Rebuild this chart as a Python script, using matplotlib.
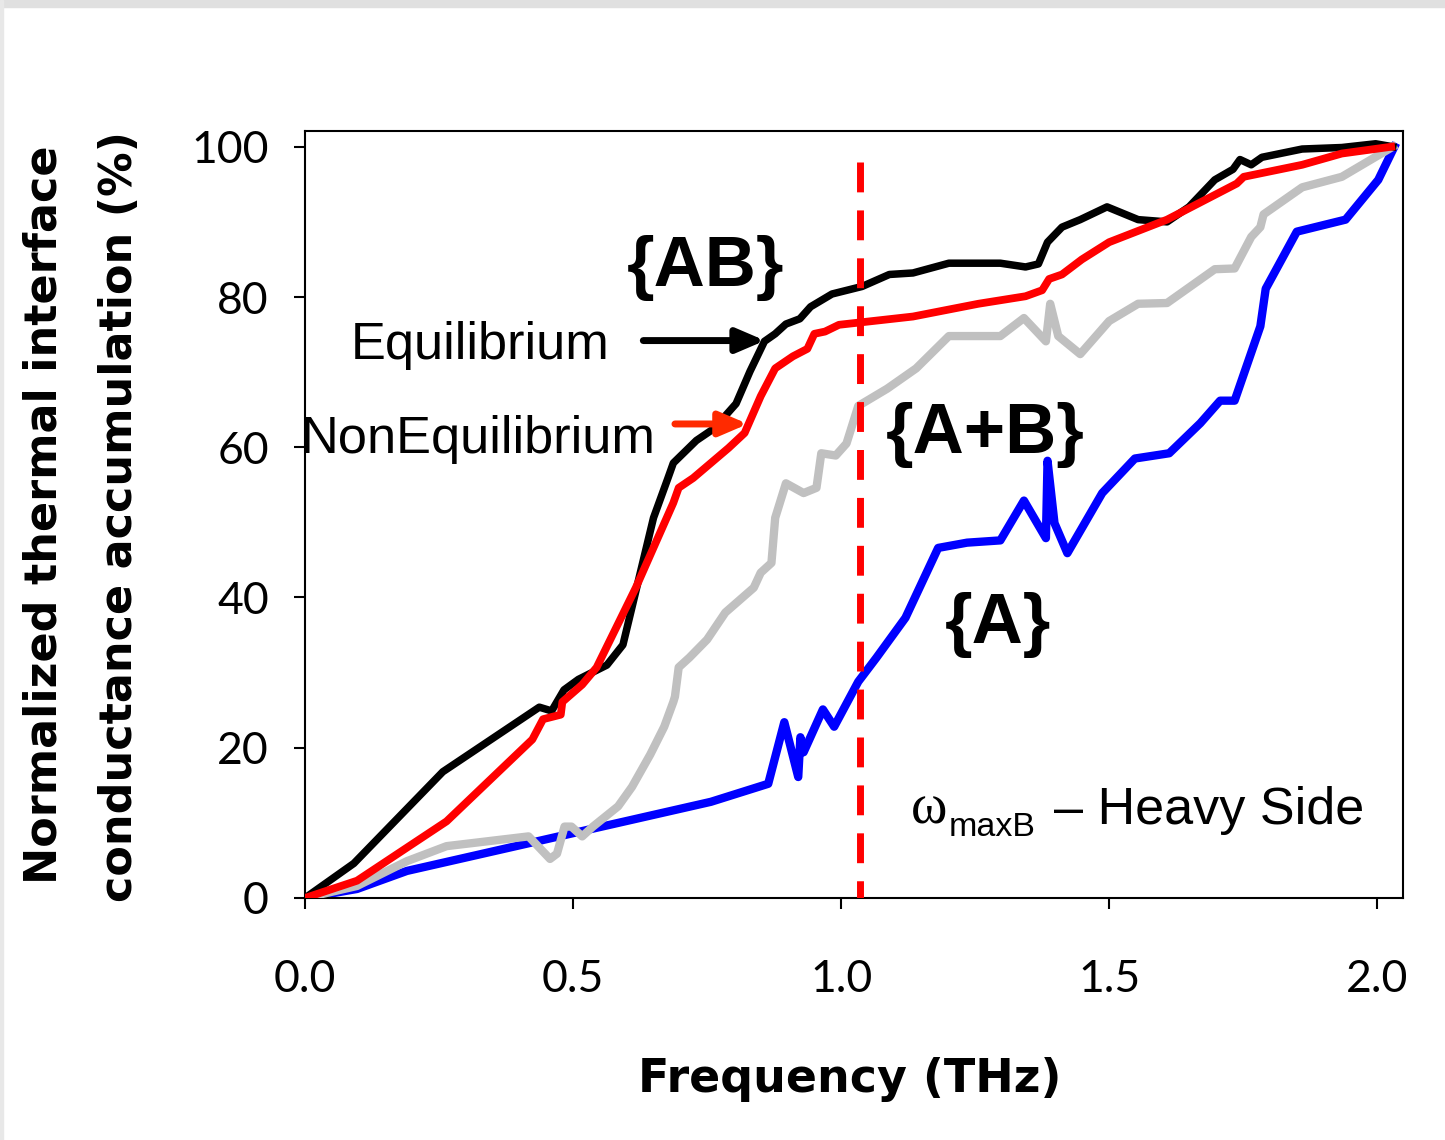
import matplotlib
matplotlib.use('Agg')
import matplotlib.pyplot as plt
from matplotlib.patches import Rectangle

# frequency (THz) / normalized accumulation (%) for each case
freq_ab = [0, 0.091, 0.257, 0.437, 0.46, 0.483, 0.51, 0.563, 0.593, 0.65, 0.677, 0.687, 0.73, 0.763,
           0.804, 0.83, 0.857, 0.877, 0.897, 0.923, 0.943, 0.983, 1.039, 1.09, 1.134, 1.201, 1.297,
           1.344, 1.368, 1.385, 1.412, 1.446, 1.496, 1.554, 1.608, 1.649, 1.697, 1.731, 1.744, 1.765,
           1.785, 1.86, 1.934, 1.997, 2.029]
acc_ab = [0, 4.6, 16.8, 25.4, 24.9, 27.7, 29.1, 31.0, 33.7, 50.6, 55.9, 57.9, 60.9, 62.5,
          65.8, 70.1, 74.1, 75.1, 76.4, 77.1, 78.7, 80.4, 81.4, 83.0, 83.2, 84.5, 84.5,
          84.0, 84.4, 87.3, 89.3, 90.3, 92.0, 90.3, 90.0, 92.0, 95.6, 97.0, 98.3, 97.6,
          98.6, 99.7, 99.9, 100.4, 100.0]

freq_ab_neq = [0, 0.097, 0.264, 0.424, 0.444, 0.477, 0.48, 0.517, 0.544, 0.617, 0.687, 0.697, 0.724,
               0.79, 0.82, 0.85, 0.877, 0.91, 0.937, 0.95, 0.97, 0.996, 1.134, 1.256, 1.344, 1.375,
               1.388, 1.412, 1.449, 1.5, 1.608, 1.738, 1.751, 1.86, 1.934, 2.026]
acc_ab_neq = [0, 2.3, 10.2, 21.1, 23.8, 24.4, 26.1, 28.4, 30.7, 41.3, 52.6, 54.6, 55.9,
              59.9, 61.9, 66.8, 70.5, 72.1, 73.1, 75.1, 75.4, 76.3, 77.4, 79.1, 80.1, 80.9,
              82.4, 83.0, 85.0, 87.3, 90.3, 95.1, 96.0, 97.6, 99.1, 100.0]

freq_apb = [0, 0.097, 0.19, 0.264, 0.417, 0.457, 0.47, 0.484, 0.497, 0.517, 0.537, 0.584, 0.61,
            0.644, 0.67, 0.687, 0.69, 0.697, 0.717, 0.75, 0.784, 0.837, 0.85, 0.87, 0.877, 0.897,
            0.93, 0.954, 0.963, 0.99, 1.01, 1.032, 1.086, 1.14, 1.201, 1.297, 1.341, 1.382, 1.39,
            1.405, 1.446, 1.5, 1.554, 1.608, 1.697, 1.734, 1.765, 1.782, 1.788, 1.86, 1.934, 2.029]
acc_apb = [0, 1.6, 4.9, 6.9, 8.2, 5.2, 5.9, 9.5, 9.5, 8.2, 9.5, 12.2, 14.8,
           19.1, 22.8, 26.1, 26.8, 30.7, 32.0, 34.4, 38.0, 41.3, 43.3, 44.6, 50.6, 55.2,
           53.9, 54.6, 59.2, 58.9, 60.5, 65.5, 67.8, 70.5, 74.8, 74.8, 77.2, 74.1, 79.1,
           74.8, 72.4, 76.8, 79.1, 79.2, 83.7, 83.8, 88.0, 89.3, 91.0, 94.6, 96.0, 100.0]

freq_a = [0, 0.097, 0.19, 0.757, 0.864, 0.894, 0.92, 0.924, 0.93, 0.966, 0.987, 1.032, 1.066,
          1.12, 1.181, 1.235, 1.297, 1.341, 1.382, 1.385, 1.398, 1.422, 1.487, 1.548, 1.612,
          1.67, 1.707, 1.734, 1.782, 1.792, 1.85, 1.941, 2.002, 2.032]
acc_a = [0, 1.2, 3.6, 12.8, 15.2, 23.4, 16.1, 21.4, 19.4, 25.1, 22.8, 28.8, 32.0,
         37.3, 46.6, 47.3, 47.6, 52.9, 47.9, 58.2, 49.9, 45.9, 53.9, 58.5, 59.2,
         63.2, 66.2, 66.2, 76.1, 81.1, 88.7, 90.3, 95.6, 100.0]

omega_max_b = 1.035
x_ticks = [0.0, 0.5, 1.0, 1.5, 2.0]
y_ticks = [0, 20, 40, 60, 80, 100]

fig = plt.figure(figsize=(14.45, 11.4), dpi=100)
ax = fig.add_axes([0.2111, 0.2123, 0.7598, 0.6728])

ax.plot(freq_a, acc_a, color='#0000FF', lw=6, zorder=2)
ax.plot(freq_apb, acc_apb, color='#C0C0C0', lw=6, zorder=3)
ax.plot(freq_ab, acc_ab, color='black', lw=5.4, zorder=4)
ax.plot(freq_ab_neq, acc_ab_neq, color='#FF0000', lw=5.6, zorder=5)
ax.plot([omega_max_b, omega_max_b], [98, 0], color='#FF0000', lw=5,
        linestyle=(0, (4.3, 2.6)), dash_capstyle='butt', zorder=6)

ax.set_xlim(0, 2.048)
ax.set_ylim(0, 102.1)
ax.set_xticks(x_ticks)
ax.set_xticklabels(['%.1f' % t for t in x_ticks])
ax.set_yticks(y_ticks)
ax.tick_params(direction='out', length=8, width=1.5, labelsize=32)
ax.tick_params(axis='x', pad=36)
ax.tick_params(axis='y', pad=18)
for lab in ax.get_xticklabels() + ax.get_yticklabels():
    lab.set_fontfamily('Lato')
for sp in ax.spines.values():
    sp.set_linewidth(1.5)

# axis titles
fig.text(850 / 1445, 1 - 1080 / 1140, 'Frequency (THz)', fontsize=33, fontweight='bold',
         ha='center', va='center', family='DejaVu Sans')
fig.text(44 / 1445, 1 - 515 / 1140, 'Normalized thermal interface', fontsize=32,
         fontweight='bold', rotation=90, ha='center', va='center', family='DejaVu Sans')
fig.text(120 / 1445, 1 - 517 / 1140, 'conductance accumulation (%)', fontsize=32,
         fontweight='bold', rotation=90, ha='center', va='center', family='DejaVu Sans')

# curve labels
sans = 'Liberation Sans'
ax.text(0.748, 81.4, '{AB}', fontsize=51, fontweight='bold', family=sans, ha='center', va='baseline')
ax.text(1.2696, 59.2, '{A+B}', fontsize=51, fontweight='bold', family=sans, ha='center', va='baseline')
ax.text(1.293, 34.0, '{A}', fontsize=51, fontweight='bold', family=sans, ha='center', va='baseline')
ax.text(0.0858, 71.8, 'Equilibrium', fontsize=37.7, family=sans, ha='left', va='baseline')
ax.text(-0.0075, 59.2, 'NonEquilibrium', fontsize=37.7, family=sans, ha='left', va='baseline')

ax.annotate('', xy=(0.858, 74.2), xytext=(0.631, 74.2),
            arrowprops=dict(arrowstyle='-|>,head_length=1.4,head_width=0.6', color='black',
                            lw=5, mutation_scale=12, shrinkA=0, shrinkB=0), zorder=7)
ax.annotate('', xy=(0.826, 63.1), xytext=(0.690, 63.1),
            arrowprops=dict(arrowstyle='-|>,head_length=1.4,head_width=0.6', color='#FF2A00',
                            lw=5, mutation_scale=12, shrinkA=0, shrinkB=0), zorder=7)

ax.text(1.131, 9.85, '\u03c9', fontsize=40, family='Liberation Serif', ha='left', va='baseline')
ax.text(1.2015, 8.26, 'maxB', fontsize=24.5, family=sans, ha='left', va='baseline')
ax.text(1.397, 9.85, '\u2013 Heavy Side', fontsize=37.5, family=sans, ha='left', va='baseline')

# light border at the top and left edge
fig.patches.append(Rectangle((0, 1 - 7 / 1140), 1, 7 / 1140, transform=fig.transFigure,
                             color='#E0E0E0', zorder=0))
fig.patches.append(Rectangle((0, 0), 3 / 1445, 1, transform=fig.transFigure,
                             color='#E8E8E8', zorder=0))

fig.savefig('out.png', dpi=100)
